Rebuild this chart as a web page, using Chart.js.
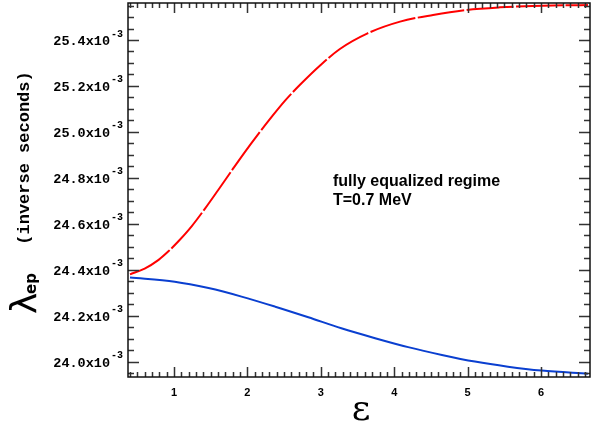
<!DOCTYPE html>
<html>
<head>
<meta charset="utf-8">
<script src="https://cdn.jsdelivr.net/npm/chart.js@4/dist/chart.umd.min.js"></script>
<style>
  html, body { margin: 0; padding: 0; background: #fff; }
  #wrap { width: 594px; height: 430px; }
</style>
</head>
<body>
<div id="wrap"><canvas id="chart" width="594" height="430"></canvas></div>
<script>
// values are in units of 10^-3 inverse seconds
const epsRed = [0.4, 0.6, 0.79, 0.92, 1.06, 1.24, 1.42, 1.6, 1.79, 1.97, 2.15, 2.33, 2.51, 2.72, 2.99, 3.26, 3.63, 4.08, 4.53, 4.99, 5.44, 5.89, 6.3, 6.64];
const lamRed = [24.38, 24.405, 24.443, 24.479, 24.524, 24.589, 24.665, 24.746, 24.833, 24.914, 24.991, 25.065, 25.135, 25.206, 25.289, 25.361, 25.428, 25.48, 25.509, 25.531, 25.542, 25.548, 25.551, 25.552];

const epsBlue = [0.4, 1.01, 1.47, 1.92, 2.38, 2.83, 3.28, 3.74, 4.19, 4.65, 5.1, 5.55, 6.01, 6.64];
const lamBlue = [24.366, 24.348, 24.32, 24.283, 24.239, 24.193, 24.145, 24.102, 24.063, 24.029, 24.0, 23.978, 23.961, 23.947];

const xTicks = [1, 2, 3, 4, 5, 6];
const yTicks = [24.0, 24.2, 24.4, 24.6, 24.8, 25.0, 25.2, 25.4];

const xMin = 0.373, xMax = 6.668;
const yMin = 23.933, yMax = 25.561;

// --- Frame, ticks and labels ---
const framePlugin = {
  id: "frame",
  afterDraw(chart) {
    const ctx = chart.ctx;
    const a = chart.chartArea;
    const xs = chart.scales.x;
    const ys = chart.scales.y;
    ctx.save();

    // minor/major ticks, inward on all four sides
    ctx.strokeStyle = "#333";
    ctx.lineWidth = 1.5;
    ctx.beginPath();
    for (let i = Math.ceil(xMin * 10); i <= Math.floor(xMax * 10); i++) {
      const px = Math.round(xs.getPixelForValue(i / 10)) + 0.5;
      const len = i % 10 === 0 ? 10 : 5;
      ctx.moveTo(px, a.bottom); ctx.lineTo(px, a.bottom - len);
      ctx.moveTo(px, a.top); ctx.lineTo(px, a.top + len);
    }
    for (let i = Math.ceil(yMin * 20); i <= Math.floor(yMax * 20); i++) {
      const py = Math.round(ys.getPixelForValue(i / 20)) + 0.5;
      const len = i % 4 === 0 ? 11 : 6;
      ctx.moveTo(a.left, py); ctx.lineTo(a.left + len, py);
      ctx.moveTo(a.right, py); ctx.lineTo(a.right - len, py);
    }
    ctx.stroke();

    ctx.strokeStyle = "#111";
    ctx.lineWidth = 1.5;
    ctx.strokeRect(a.left, a.top, a.right - a.left, a.bottom - a.top);

    // x tick labels
    ctx.fillStyle = "#000";
    ctx.font = "bold 11px 'Liberation Sans', Arial, sans-serif";
    ctx.textAlign = "center";
    ctx.textBaseline = "middle";
    xTicks.forEach((t) => {
      ctx.fillText(String(t), xs.getPixelForValue(t), a.bottom + 16);
    });

    // y tick labels with superscript exponent
    yTicks.forEach((t) => {
      const py = ys.getPixelForValue(t);
      ctx.font = "bold 13.5px 'Liberation Mono', 'Courier New', monospace";
      ctx.textAlign = "right";
      ctx.textBaseline = "middle";
      ctx.fillText(t.toFixed(1) + "x10", 110, py + 2);
      ctx.font = "bold 10px 'Liberation Mono', 'Courier New', monospace";
      ctx.textAlign = "left";
      ctx.fillText("-3", 111, py - 6);
    });

    // x axis title
    ctx.font = "36px 'DejaVu Serif', serif";
    ctx.textAlign = "center";
    ctx.textBaseline = "alphabetic";
    ctx.fillText("\u03b5", 361, 420);

    // y axis title (rotated)
    ctx.save();
    ctx.rotate(-Math.PI / 2);
    ctx.textAlign = "left";
    ctx.textBaseline = "alphabetic";
    ctx.font = "36px 'DejaVu Sans', sans-serif";
    ctx.fillText("\u03bb", -314, 36);
    ctx.font = "bold 15px 'DejaVu Sans', sans-serif";
    ctx.fillText("ep", -294, 36);
    ctx.font = "bold 17px 'Liberation Mono', 'Courier New', monospace";
    ctx.textAlign = "center";
    ctx.fillText("(inverse seconds)", -158, 29);
    ctx.restore();

    // annotation
    ctx.font = "bold 16px 'Liberation Sans', Arial, sans-serif";
    ctx.textAlign = "left";
    ctx.textBaseline = "alphabetic";
    ctx.fillText("fully equalized regime", 333, 186);
    ctx.fillText("T=0.7 MeV", 333, 205);

    ctx.restore();
  },
};

new Chart(document.getElementById("chart"), {
  type: "line",
  data: {
    datasets: [
      {
        data: epsRed.map((x, i) => ({ x, y: lamRed[i] })),
        borderColor: "#ff0000",
        borderWidth: 2,
        borderDash: [47, 2.5],
        pointRadius: 0,
        cubicInterpolationMode: "monotone",
        fill: false,
      },
      {
        data: epsBlue.map((x, i) => ({ x, y: lamBlue[i] })),
        borderColor: "#0a3fd0",
        borderWidth: 2,
        pointRadius: 0,
        cubicInterpolationMode: "monotone",
        fill: false,
      },
    ],
  },
  options: {
    responsive: false,
    animation: false,
    layout: { padding: { left: 128, right: 4, top: 3, bottom: 53 } },
    plugins: { legend: { display: false }, tooltip: { enabled: false } },
    scales: {
      x: { type: "linear", min: xMin, max: xMax, display: false },
      y: { type: "linear", min: yMin, max: yMax, display: false },
    },
  },
  plugins: [framePlugin],
});
</script>
</body>
</html>
